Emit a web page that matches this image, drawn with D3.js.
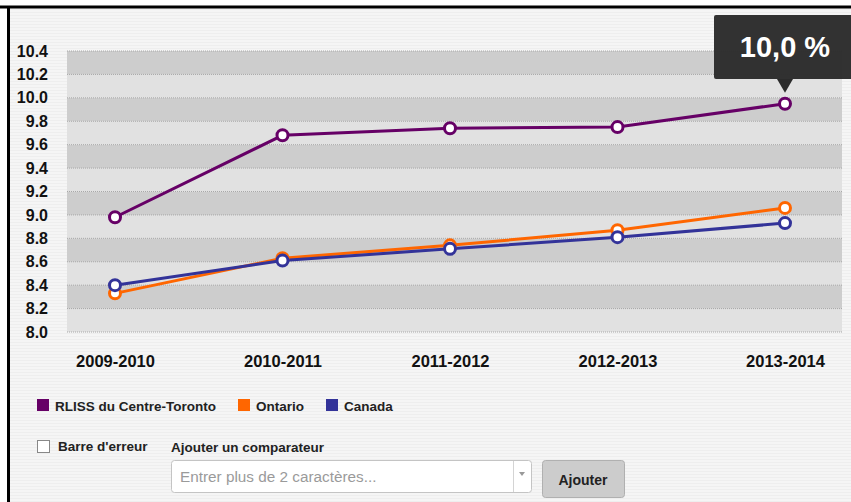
<!DOCTYPE html>
<html>
<head>
<meta charset="utf-8">
<script src="https://d3js.org/d3.v7.min.js"></script>
<style>
  body { margin: 0; background: #fff; }
  svg { display: block; font-family: "Liberation Sans", Arial, sans-serif; }
</style>
</head>
<body>
<script>
let years = ["2009-2010", "2010-2011", "2011-2012", "2012-2013", "2013-2014"];
let rliss = [8.98, 9.68, 9.74, 9.75, 9.95];
let ontario = [8.33, 8.63, 8.74, 8.87, 9.06];
let canada = [8.40, 8.61, 8.71, 8.81, 8.93];
let yTicks = [8.0, 8.2, 8.4, 8.6, 8.8, 9.0, 9.2, 9.4, 9.6, 9.8, 10.0, 10.2, 10.4];
let seriesNames = ["RLISS du Centre-Toronto", "Ontario", "Canada"];
let tooltipText = "10,0 %";

let colors = {
    "RLISS du Centre-Toronto": "#660066",
    "Ontario": "#ff6600",
    "Canada": "#333399"
};

let svgWidth = 851,
    svgHeight = 502,
    plot = { left: 67, right: 842, top: 51, bottom: 332 };

let svg = d3.select("body").append("svg")
    .attr("width", svgWidth)
    .attr("height", svgHeight);

// striped page background
let defs = svg.append("defs");
let pat = defs.append("pattern")
    .attr("id", "stripes")
    .attr("width", 4).attr("height", 3)
    .attr("patternUnits", "userSpaceOnUse");
pat.append("rect").attr("width", 4).attr("height", 3).attr("fill", "#f5f5f5");
pat.append("rect").attr("width", 4).attr("height", 1).attr("fill", "#eeeeee");

svg.append("rect").attr("x", 8).attr("y", 7).attr("width", svgWidth).attr("height", svgHeight)
    .attr("fill", "url(#stripes)");

// black frame
svg.append("line").attr("x1", 0).attr("x2", svgWidth).attr("y1", 7).attr("y2", 7)
    .attr("stroke", "#000").attr("stroke-width", 3);
svg.append("line").attr("x1", 8.5).attr("x2", 8.5).attr("y1", 6).attr("y2", svgHeight)
    .attr("stroke", "#000").attr("stroke-width", 3);

let x = d3.scalePoint().domain(years).range([115, 785]);
let y = d3.scaleLinear().domain([8.0, 10.4]).range([plot.bottom, plot.top]);

// alternating bands
for (let i = 0; i < yTicks.length - 1; i++) {
    let top = yTicks.length - 2 - i;
    svg.append("rect")
        .attr("x", plot.left)
        .attr("y", y(yTicks[i + 1]))
        .attr("width", plot.right - plot.left)
        .attr("height", y(yTicks[i]) - y(yTicks[i + 1]))
        .attr("fill", top % 2 === 0 ? "#cdcdcd" : "#e1e1e1");
}

// dotted gridlines
svg.append("g").selectAll("line")
    .data(yTicks)
    .join("line")
    .attr("x1", plot.left).attr("x2", plot.right)
    .attr("y1", d => y(d)).attr("y2", d => y(d))
    .attr("stroke", "#a8a8a8")
    .attr("stroke-dasharray", "1,1");

// y axis labels
let yAxis = d3.axisLeft(y).tickValues(yTicks).tickFormat(d3.format(".1f")).tickSize(0).tickPadding(0);
let gy = svg.append("g").attr("transform", "translate(48,0)").call(yAxis);
gy.select(".domain").remove();
gy.selectAll("text")
    .attr("font-size", 16).attr("font-weight", "bold").attr("fill", "#111")
    .attr("font-family", "Liberation Sans, Arial, sans-serif");

// x axis labels
let xAxis = d3.axisBottom(x).tickSize(0).tickPadding(0);
let gx = svg.append("g").attr("transform", "translate(0,355)").call(xAxis);
gx.select(".domain").remove();
gx.selectAll("text")
    .attr("font-size", 16.5).attr("font-weight", "bold").attr("fill", "#111")
    .attr("font-family", "Liberation Sans, Arial, sans-serif");

// lines
let seriesData = [
    { name: "Ontario", values: ontario },
    { name: "Canada", values: canada },
    { name: "RLISS du Centre-Toronto", values: rliss }
];
let line = d3.line().x((d, i) => x(years[i])).y(d => y(d));

seriesData.forEach(s => {
    svg.append("path")
        .datum(s.values)
        .attr("d", line)
        .attr("fill", "none")
        .attr("stroke", colors[s.name])
        .attr("stroke-width", 3);
});
seriesData.forEach(s => {
    svg.append("g").selectAll("circle")
        .data(s.values)
        .join("circle")
        .attr("cx", (d, i) => x(years[i]))
        .attr("cy", d => y(d))
        .attr("r", 5.5)
        .attr("fill", "#fff")
        .attr("stroke", colors[s.name])
        .attr("stroke-width", 3);
});

// tooltip on last RLISS point
let tipX = x(years[4]), tipY = y(rliss[4]);
svg.append("rect")
    .attr("x", tipX - 71).attr("y", 15)
    .attr("width", 142).attr("height", 64)
    .attr("rx", 2)
    .attr("fill", "#2b2b2b").attr("fill-opacity", 0.97);
svg.append("path")
    .attr("d", `M${tipX - 8},79 L${tipX + 8},79 L${tipX},${tipY - 11} Z`)
    .attr("fill", "#2b2b2b");
svg.append("text")
    .attr("x", tipX).attr("y", 57)
    .attr("text-anchor", "middle")
    .attr("font-size", 29).attr("font-weight", "bold")
    .attr("fill", "#fff")
    .text(tooltipText);

// legend
let legendX = [37, 238, 326];
seriesNames.forEach((n, i) => {
    svg.append("rect")
        .attr("x", legendX[i]).attr("y", 399)
        .attr("width", 12).attr("height", 12)
        .attr("fill", colors[n]);
    svg.append("text")
        .attr("x", legendX[i] + 18).attr("y", 411)
        .attr("font-size", 13.5).attr("font-weight", "bold").attr("fill", "#222")
        .text(n);
});

// controls
svg.append("rect")
    .attr("x", 37.5).attr("y", 440.5).attr("width", 12).attr("height", 12)
    .attr("fill", "#fff").attr("stroke", "#888");
svg.append("text")
    .attr("x", 58).attr("y", 451)
    .attr("font-size", 13.5).attr("font-weight", "bold").attr("fill", "#222")
    .text("Barre d'erreur");
svg.append("text")
    .attr("x", 171).attr("y", 452)
    .attr("font-size", 13.5).attr("font-weight", "bold").attr("fill", "#222")
    .text("Ajouter un comparateur");

svg.append("rect")
    .attr("x", 171.5).attr("y", 460.5).attr("width", 360).attr("height", 32)
    .attr("rx", 3)
    .attr("fill", "#fff").attr("stroke", "#c4c4c4");
svg.append("line")
    .attr("x1", 513.5).attr("x2", 513.5).attr("y1", 461).attr("y2", 492)
    .attr("stroke", "#d4d4d4");
svg.append("path")
    .attr("d", "M519,472 L525,472 L522,476 Z")
    .attr("fill", "#999");
svg.append("text")
    .attr("x", 180).attr("y", 482)
    .attr("font-size", 15.3).attr("fill", "#9a9a9a")
    .text("Entrer plus de 2 caractères...");

svg.append("rect")
    .attr("x", 542.5).attr("y", 460.5).attr("width", 82).attr("height", 37)
    .attr("rx", 3)
    .attr("fill", "#cccccc").attr("stroke", "#b0b0b0");
svg.append("text")
    .attr("x", 583).attr("y", 485)
    .attr("text-anchor", "middle")
    .attr("font-size", 14).attr("font-weight", "bold").attr("fill", "#222")
    .text("Ajouter");
</script>
</body>
</html>
